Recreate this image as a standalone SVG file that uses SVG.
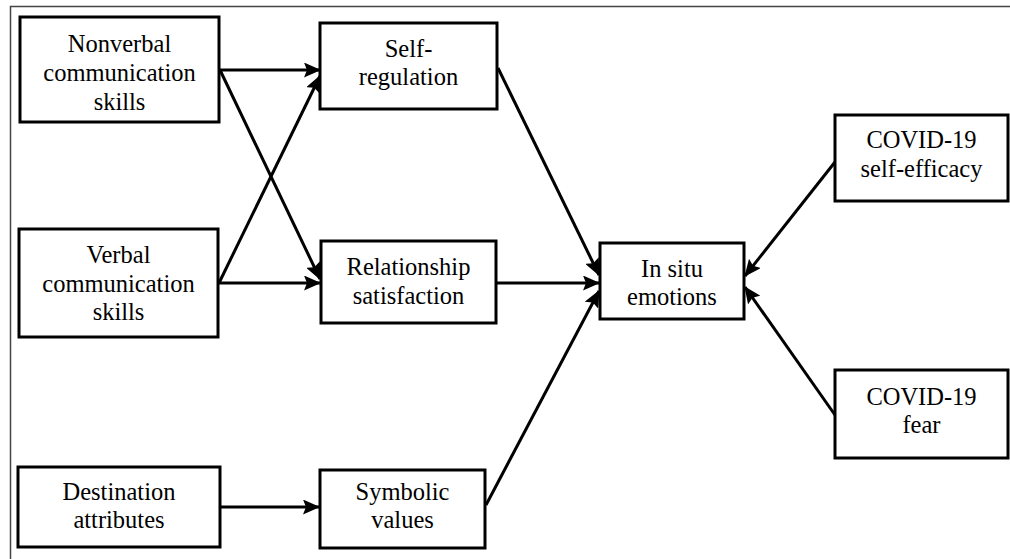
<svg xmlns="http://www.w3.org/2000/svg" width="1010" height="559" viewBox="0 0 1010 559">
<style>
.box{fill:#fff;stroke:#000;stroke-width:3}
text{font-family:'Liberation Serif','Times New Roman','DejaVu Serif',serif;font-size:24.5px;fill:#000;text-anchor:middle}
.con{stroke:#000;stroke-width:3;fill:none;marker-end:url(#ah)}
.frame{fill:none;stroke:#444;stroke-width:1.5}
</style>
<defs>
<marker id="ah" markerUnits="userSpaceOnUse" markerWidth="17" markerHeight="15" refX="16" refY="7.5" orient="auto">
<path d="M0,0 L17,7.5 L0,15 L3,7.5 z" fill="#000"/>
</marker>
</defs>
<rect width="1010" height="559" fill="#fff"/>
<path class="frame" d="M10.5,560 L10.5,6.5 L1011,6.5"/>
<g id="connectors">
<line class="con" x1="220" y1="70" x2="320" y2="70"/>
<line class="con" x1="220" y1="70" x2="320" y2="279"/>
<line class="con" x1="219" y1="283" x2="320" y2="76"/>
<line class="con" x1="219" y1="283" x2="320" y2="283"/>
<line class="con" x1="498" y1="68" x2="599" y2="275"/>
<line class="con" x1="497" y1="283" x2="599" y2="283"/>
<line class="con" x1="486" y1="505" x2="599" y2="291"/>
<line class="con" x1="835" y1="162" x2="745" y2="276"/>
<line class="con" x1="835" y1="415" x2="745" y2="287"/>
<line class="con" x1="221" y1="507" x2="319" y2="507"/>
</g>
<g font-family="Liberation Serif, serif">
<g id="nonverbal">
<rect class="box" x="20" y="17" width="199" height="105"/>
<text x="119.5" y="52">Nonverbal</text>
<text x="119.5" y="81">communication</text>
<text x="119.5" y="110">skills</text>
</g>
<g id="verbal">
<rect class="box" x="19" y="229" width="199" height="108"/>
<text x="118.5" y="263">Verbal</text>
<text x="118.5" y="292">communication</text>
<text x="118.5" y="320">skills</text>
</g>
<g id="destination">
<rect class="box" x="18" y="467" width="202" height="80"/>
<text x="119" y="500">Destination</text>
<text x="119" y="528">attributes</text>
</g>
<g id="selfregulation">
<rect class="box" x="320" y="23" width="177" height="86"/>
<text x="408.5" y="57">Self-</text>
<text x="408.5" y="85">regulation</text>
</g>
<g id="relationship">
<rect class="box" x="321" y="241" width="175" height="82"/>
<text x="408.5" y="275">Relationship</text>
<text x="408.5" y="304">satisfaction</text>
</g>
<g id="symbolic">
<rect class="box" x="320" y="470" width="165" height="78"/>
<text x="402.5" y="500">Symbolic</text>
<text x="402.5" y="528">values</text>
</g>
<g id="insitu">
<rect class="box" x="600" y="243" width="144" height="76"/>
<text x="672" y="277">In situ</text>
<text x="672" y="305">emotions</text>
</g>
<g id="selfefficacy">
<rect class="box" x="835" y="115" width="173" height="86"/>
<text x="921.5" y="148">COVID-19</text>
<text x="921.5" y="177">self-efficacy</text>
</g>
<g id="fear">
<rect class="box" x="835" y="370" width="173" height="88"/>
<text x="921.5" y="405">COVID-19</text>
<text x="921.5" y="433">fear</text>
</g>
</g>
</svg>
